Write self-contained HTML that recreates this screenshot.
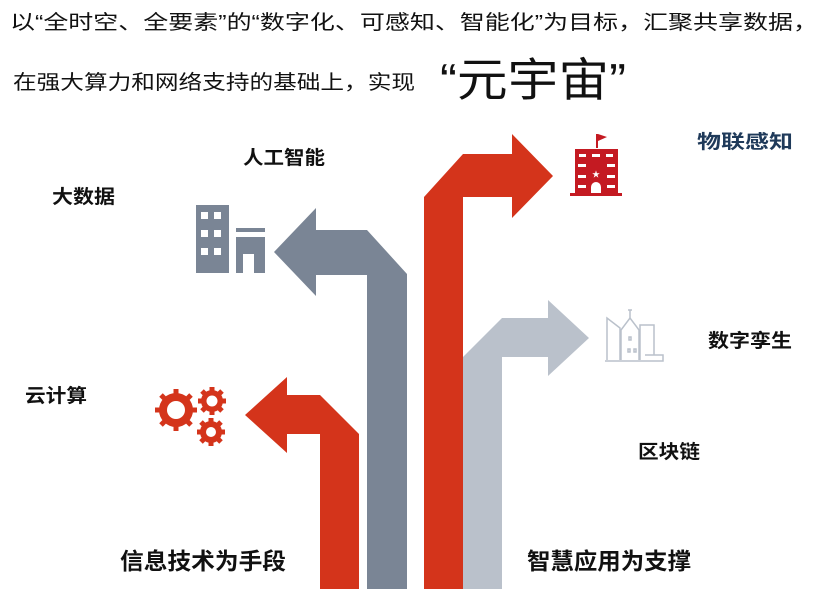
<!DOCTYPE html>
<html><head><meta charset="utf-8"><style>
html,body{margin:0;padding:0;background:#fff;width:830px;height:598px;overflow:hidden}
svg{display:block}
text{font-family:"Liberation Sans","Noto Sans CJK SC",sans-serif}
.b{font-weight:bold;font-size:19px;fill:#111}
</style></head><body>
<svg width="830" height="598" viewBox="0 0 830 598" xmlns="http://www.w3.org/2000/svg">
<text x="10" y="29" font-size="20" fill="#111" textLength="808" lengthAdjust="spacingAndGlyphs">以“全时空、全要素”的“数字化、可感知、智能化”为目标，汇聚共享数据，</text>
<text x="13" y="89" font-size="20" fill="#111" textLength="402" lengthAdjust="spacingAndGlyphs">在强大算力和网络支持的基础上，实现</text>
<text x="440" y="96" font-size="46" fill="#111" textLength="186" lengthAdjust="spacingAndGlyphs">“元宇宙”</text>

<polygon fill="#bac1cb" points="463,589 463,357 502,318 548,318 548,300 589,338 548,376 548,357 502,357 502,589"/>
<polygon fill="#7a8595" points="407,589 407,274 367,230 316,230 316,208 274,252 316,296 316,275 367,275 367,589"/>
<polygon fill="#d4341b" points="424,589 424,197 463,154 512,154 512,134 553,176 512,218 512,197 463,197 463,589"/>
<polygon fill="#d4341b" points="359,589 359,434 320,395 287,395 287,377 245,415 287,453 287,434 320,434 320,589"/>

<g fill="#7a8595">
<rect x="196" y="205" width="33" height="68"/>
<rect x="236" y="228" width="29" height="4"/>
<path d="M236,237 H265 V273 H254 V265 H247 V273 H236 Z"/>
</g>
<g fill="#fff">
<rect x="201" y="212" width="7" height="7"/><rect x="214" y="212" width="7" height="7"/>
<rect x="201" y="230" width="7" height="7"/><rect x="214" y="230" width="7" height="7"/>
<rect x="201" y="248" width="7" height="7"/><rect x="214" y="248" width="7" height="7"/>
<rect x="243" y="254" width="11" height="19"/>
</g>
<rect x="236" y="256" width="7" height="17" fill="#7a8595"/>

<g fill="#c41a22">
<rect x="596" y="134" width="2" height="14"/>
<polygon points="598,134 607,137 598,141"/>
<rect x="575" y="149" width="43" height="46"/>
<rect x="570" y="193" width="52" height="3"/>
</g>
<g fill="#fff">
<rect x="579" y="154" width="7" height="3"/><rect x="592" y="154" width="8" height="3"/><rect x="606" y="154" width="7" height="3"/>
<rect x="578" y="164" width="8" height="3"/><rect x="607" y="164" width="8" height="3"/>
<rect x="578" y="175" width="8" height="3"/><rect x="607" y="175" width="8" height="3"/>
<rect x="578" y="185" width="8" height="3"/><rect x="607" y="185" width="8" height="3"/>
<path d="M591,193 V187 a5,5 0 0 1 10,0 V193 Z"/>
<text x="596" y="177" font-size="8" text-anchor="middle" fill="#fff">★</text>
</g>

<g fill="none" stroke="#bac1cb" stroke-width="1.5">
<path d="M607,360 V318 L620,328 V360"/>
<path d="M621,360 V330 L630,318 L639,330 V360"/>
<path d="M630,318 V310 M628,310 H632"/>
<path d="M640,360 V325 H654 V355"/>
<path d="M605,361 H663 V355 H645"/>
<rect x="629" y="337" width="2" height="3"/>
<rect x="628" y="349" width="2" height="3"/><rect x="634" y="349" width="2" height="3"/>
</g>

<g fill="#d4341b">
<circle cx="176" cy="410" r="17"/>
<g stroke="#d4341b" stroke-width="5">
<line x1="176" y1="389" x2="176" y2="431"/><line x1="155" y1="410" x2="197" y2="410"/>
<line x1="161" y1="395" x2="191" y2="425"/><line x1="191" y1="395" x2="161" y2="425"/>
<line x1="212" y1="387" x2="212" y2="415"/><line x1="198" y1="401" x2="226" y2="401"/>
<line x1="202" y1="391" x2="222" y2="411"/><line x1="222" y1="391" x2="202" y2="411"/>
<line x1="211" y1="418" x2="211" y2="446"/><line x1="197" y1="432" x2="225" y2="432"/>
<line x1="201" y1="422" x2="221" y2="442"/><line x1="221" y1="422" x2="201" y2="442"/>
</g>
<circle cx="212" cy="401" r="11"/>
<circle cx="211" cy="432" r="11"/>
</g>
<g fill="#fff">
<circle cx="176" cy="410" r="9"/>
<circle cx="212" cy="401" r="5.5"/>
<circle cx="211" cy="432" r="5"/>
</g>

<text class="b" x="243" y="164" textLength="82" lengthAdjust="spacingAndGlyphs">人工智能</text>
<text class="b" x="52" y="203" textLength="63" lengthAdjust="spacingAndGlyphs">大数据</text>
<text class="b" x="697" y="148" textLength="96" lengthAdjust="spacingAndGlyphs" style="fill:#1f3a5a">物联感知</text>
<text class="b" x="708" y="347" textLength="84" lengthAdjust="spacingAndGlyphs">数字孪生</text>
<text class="b" x="25" y="402" textLength="62" lengthAdjust="spacingAndGlyphs">云计算</text>
<text class="b" x="638" y="458" textLength="62" lengthAdjust="spacingAndGlyphs">区块链</text>
<text x="120" y="569" font-size="23" font-weight="bold" fill="#111" textLength="166" lengthAdjust="spacingAndGlyphs">信息技术为手段</text>
<text x="527" y="569" font-size="23" font-weight="bold" fill="#111" textLength="164" lengthAdjust="spacingAndGlyphs">智慧应用为支撑</text>
</svg>
</body></html>
